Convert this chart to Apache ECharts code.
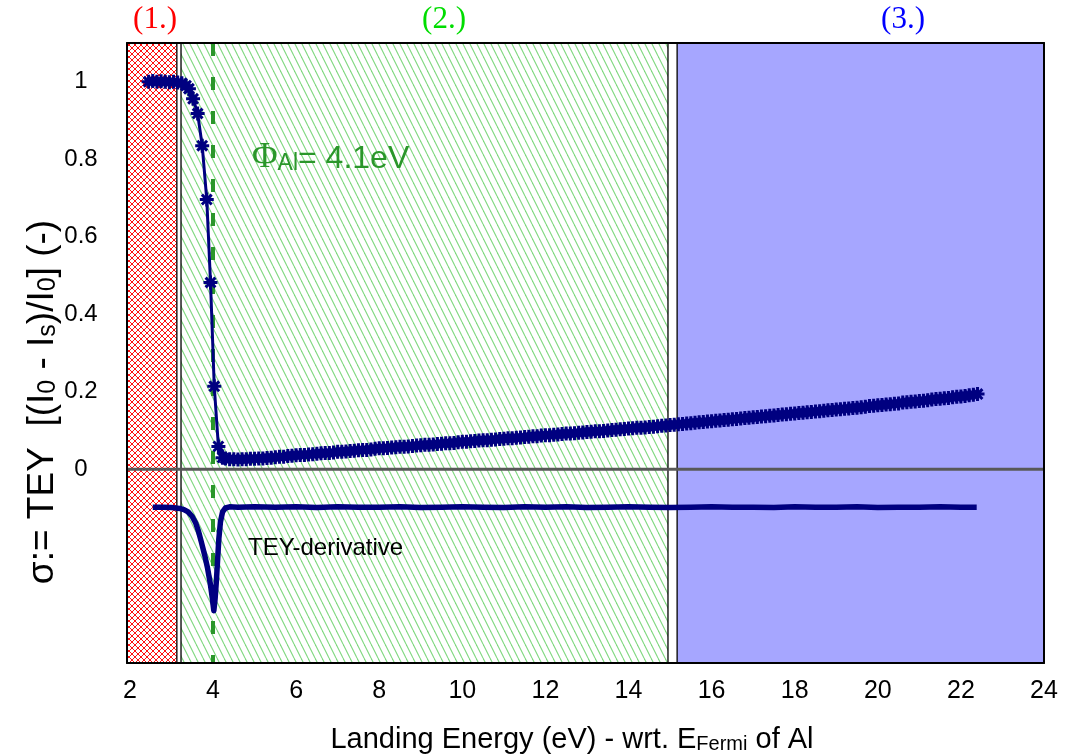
<!DOCTYPE html>
<html><head><meta charset="utf-8">
<script src="https://cdn.jsdelivr.net/npm/echarts@6/dist/echarts.min.js"></script>
<style>html,body{margin:0;padding:0;background:#fff}#c{width:1066px;height:756px}</style>
</head><body><div id="c"></div>
<script>
// ---------------- data ----------------
const teyX = [2.45,2.55,2.65,2.75,2.85,2.95,3.05,3.15,3.25,3.35,3.42,3.52,3.63,3.74,3.85,3.94,4.03,4.13,4.23,
  4.3,4.4,4.5,4.6,4.7,4.8,4.9,5.0,5.1,5.2,5.3,5.4,5.5,5.6,5.7,5.8,5.9,6.0,6.1,6.2,6.3,6.4,6.5,6.6,6.7,6.8,6.9,
  7.0,7.1,7.2,7.3,7.4,7.5,7.6,7.7,7.8,7.9,8.0,8.1,8.2,8.3,8.4,8.5,8.6,8.7,8.8,8.9,
  9.0,9.1,9.2,9.3,9.4,9.5,9.6,9.7,9.8,9.9,10.0,10.1,10.2,10.3,10.4,10.5,10.6,10.7,10.8,10.9,
  11.0,11.1,11.2,11.3,11.4,11.5,11.6,11.7,11.8,11.9,12.0,12.1,12.2,12.3,12.4,12.5,12.6,12.7,12.8,12.9,
  13.0,13.1,13.2,13.3,13.4,13.5,13.6,13.7,13.8,13.9,14.0,14.1,14.2,14.3,14.4,14.5,14.6,14.7,14.8,14.9,
  15.0,15.1,15.2,15.3,15.4,15.5,15.6,15.7,15.8,15.9,16.0,16.1,16.2,16.3,16.4,16.5,16.6,16.7,16.8,16.9,
  17.0,17.1,17.2,17.3,17.4,17.5,17.6,17.7,17.8,17.9,18.0,18.1,18.2,18.3,18.4,18.5,18.6,18.7,18.8,18.9,
  19.0,19.1,19.2,19.3,19.4,19.5,19.6,19.7,19.8,19.9,20.0,20.1,20.2,20.3,20.4,20.5,20.6,20.7,20.8,20.9,
  21.0,21.1,21.2,21.3,21.4,21.5,21.6,21.7,21.8,21.9,22.0,22.1,22.2,22.3,22.4];
const teyY = [1.0,1.002,1.0,1.001,1.0,0.999,1.0,0.998,0.996,0.99,0.982,0.956,0.918,0.835,0.696,0.482,0.214,0.059,0.030,
  0.028,0.026,0.026,0.025,0.026,0.026,0.027,0.027,0.028,0.028,0.029,0.030,0.031,0.032,0.032,0.034,0.035,0.036,0.037,0.037,0.038,0.039,0.040,0.041,0.042,0.042,0.043,
  0.045,0.045,0.046,0.047,0.048,0.049,0.050,0.050,0.051,0.053,0.054,0.054,0.055,0.056,0.057,0.058,0.058,0.059,0.060,0.061,
  0.062,0.063,0.063,0.064,0.065,0.066,0.067,0.067,0.068,0.070,0.071,0.071,0.072,0.073,0.074,0.075,0.075,0.076,0.077,0.078,
  0.079,0.080,0.080,0.081,0.082,0.083,0.084,0.085,0.085,0.087,0.088,0.088,0.089,0.090,0.091,0.092,0.092,0.093,0.094,0.095,
  0.096,0.097,0.098,0.098,0.099,0.100,0.101,0.102,0.103,0.104,0.105,0.106,0.107,0.107,0.108,0.109,0.110,0.111,0.112,0.113,
  0.114,0.115,0.116,0.117,0.118,0.119,0.120,0.121,0.122,0.123,0.124,0.125,0.126,0.127,0.128,0.129,0.130,0.131,0.132,0.133,
  0.134,0.135,0.136,0.137,0.138,0.139,0.140,0.141,0.142,0.143,0.144,0.145,0.146,0.147,0.148,0.149,0.150,0.151,0.152,0.153,
  0.154,0.155,0.156,0.157,0.158,0.159,0.160,0.161,0.163,0.164,0.165,0.166,0.167,0.168,0.169,0.170,0.172,0.173,0.174,0.175,
  0.176,0.177,0.178,0.180,0.181,0.182,0.183,0.184,0.186,0.187,0.188,0.189,0.191,0.192,0.194];
const derivX = [2.55,2.8,3.0,3.2,3.3,3.4,3.5,3.58,3.65,3.72,3.8,3.87,3.93,3.98,4.02,4.05,4.08,4.11,4.14,4.18,
  4.23,4.3,4.4,4.6,5.0,5.5,6.0,6.5,7.0,7.5,8.0,8.5,9.0,9.5,10.0,10.5,11.0,11.5,12.0,12.5,
  13.0,13.5,14.0,14.5,15.0,15.5,16.0,16.5,17.0,17.5,18.0,18.5,19.0,19.5,20.0,20.5,21.0,21.5,22.0,22.38];
const derivY = [-0.098,-0.098,-0.099,-0.101,-0.104,-0.110,-0.122,-0.138,-0.160,-0.188,-0.222,-0.256,-0.292,-0.330,-0.365,-0.335,-0.290,-0.235,-0.180,-0.135,
  -0.110,-0.100,-0.097,-0.098,-0.097,-0.098,-0.097,-0.099,-0.097,-0.098,-0.098,-0.097,-0.099,-0.098,-0.097,-0.098,-0.099,-0.097,-0.098,-0.097,
  -0.099,-0.098,-0.097,-0.098,-0.099,-0.098,-0.097,-0.098,-0.098,-0.099,-0.097,-0.098,-0.098,-0.097,-0.099,-0.098,-0.098,-0.097,-0.098,-0.098];
const regionStart = [1.93, 3.23, 15.17];
const regionEnd = [3.13, 14.95, 24];
const regionLabels = ['(1.)', '(2.)', '(3.)'];
const phiX = 4.0;
const xLabelValues = [2, 4, 6, 8, 10, 12, 14, 16, 18, 20, 22, 24];
const yLabelValues = [0, 0.2, 0.4, 0.6, 0.8, 1];
const X_MIN = 1.93, X_MAX = 24, Y_MIN = -0.5, Y_MAX = 1.1;

// ---------------- fill patterns ----------------
function greenHatch() {
  const w = 7, h = 14, c = document.createElement('canvas');
  c.width = w; c.height = h;
  const g = c.getContext('2d');
  g.fillStyle = '#fff'; g.fillRect(0, 0, w, h);
  g.strokeStyle = '#7fd87f'; g.lineWidth = 1.1;
  for (let k = -1; k <= 1; k++) { g.beginPath(); g.moveTo(k * w, 0); g.lineTo(k * w + w, h); g.stroke(); }
  return { image: c, repeat: 'repeat' };
}
function redCross() {
  const s = 6, c = document.createElement('canvas');
  c.width = s; c.height = s;
  const g = c.getContext('2d');
  g.fillStyle = '#fff'; g.fillRect(0, 0, s, s);
  g.fillStyle = '#ff1010';
  for (let i = 0; i < s; i++) { g.fillRect(i, i, 1, 1); g.fillRect(s - 1 - i, i, 1, 1); }
  return { image: c, repeat: 'repeat' };
}
const regionFills = [redCross(), greenHatch(), '#a6a6ff'];

const star = 'path://M0,5L10,5M5,0L5,10M1.5,1.5L8.5,8.5M8.5,1.5L1.5,8.5';
const navy = '#000080';
const green = '#2a962a';

const chart = echarts.init(document.getElementById('c'), null, { renderer: 'canvas' });
const axisFrame = { lineStyle: { color: '#000', width: 2 } };
chart.setOption({
  animation: false,
  backgroundColor: '#fff',
  grid: { left: 127, right: 22, top: 43, bottom: 93 },
  xAxis: [
    { type: 'value', min: X_MIN, max: X_MAX, z: 10,
      axisLine: { show: true, onZero: false, ...axisFrame }, axisTick: { show: false }, splitLine: { show: false },
      axisLabel: { customValues: xLabelValues, fontSize: 25, color: '#000', fontFamily: 'Liberation Sans', margin: 16 } },
    { type: 'value', position: 'top', min: X_MIN, max: X_MAX, z: 10,
      axisLine: { show: true, onZero: false, ...axisFrame }, axisTick: { show: false }, splitLine: { show: false }, axisLabel: { show: false } }
  ],
  yAxis: [
    { type: 'value', min: Y_MIN, max: Y_MAX, z: 10,
      axisLine: { show: true, onZero: false, ...axisFrame }, axisTick: { show: false }, splitLine: { show: false },
      axisLabel: { customValues: yLabelValues, fontSize: 24, color: '#000', fontFamily: 'Liberation Sans', align: 'center', margin: 46,
        formatter: v => String(Math.round(v * 10) / 10) } },
    { type: 'value', position: 'right', min: Y_MIN, max: Y_MAX, z: 10,
      axisLine: { show: true, onZero: false, ...axisFrame }, axisTick: { show: false }, splitLine: { show: false }, axisLabel: { show: false } }
  ],
  series: [
    { type: 'custom', z: 1, silent: true, clip: true,
      data: regionStart.map((s, i) => [s, regionEnd[i], i]),
      renderItem: (params, api) => {
        const i = api.value(2);
        const p1 = api.coord([api.value(0), Y_MAX]);
        const p2 = api.coord([api.value(1), Y_MIN]);
        return { type: 'rect', shape: { x: p1[0], y: p1[1], width: p2[0] - p1[0], height: p2[1] - p1[1] },
          style: { fill: regionFills[i], stroke: '#000', lineWidth: 1.3 } };
      } },
    { type: 'line', z: 3, silent: true, symbol: 'none', data: [[X_MIN, 0], [X_MAX, 0]],
      lineStyle: { color: '#585858', width: 3 } },
    { type: 'line', z: 3, silent: true, symbol: 'none', data: [[phiX, Y_MAX], [phiX, Y_MIN]],
      lineStyle: { color: green, width: 4, type: [13, 21] } },
    { type: 'line', z: 5, name: 'TEY-derivative', symbol: 'none', data: derivX.map((x, i) => [x, derivY[i]]),
      lineStyle: { color: navy, width: 5.5, join: 'round' } },
    { type: 'line', z: 6, name: 'TEY', symbol: star, symbolSize: 14, data: teyX.map((x, i) => [x, teyY[i]]),
      lineStyle: { color: navy, width: 3 },
      itemStyle: { color: navy, borderColor: navy, borderWidth: 3 } }
  ],
  graphic: [
    { type: 'text', x: 155, y: 20, z: 20, style: { text: regionLabels[0], fill: '#ff0000', font: '31px "Liberation Serif"', align: 'center', verticalAlign: 'middle' } },
    { type: 'text', x: 444, y: 20, z: 20, style: { text: regionLabels[1], fill: '#00dd00', font: '31px "Liberation Serif"', align: 'center', verticalAlign: 'middle' } },
    { type: 'text', x: 903, y: 20, z: 20, style: { text: regionLabels[2], fill: '#0000ff', font: '31px "Liberation Serif"', align: 'center', verticalAlign: 'middle' } },
    { type: 'text', x: 252, y: 156, z: 20, style: {
        text: '{p|Φ}{s|Al}{n|= 4.1eV}', align: 'left', verticalAlign: 'middle',
        rich: {
          p: { fontSize: 35, fontFamily: 'Liberation Serif', fill: green, lineHeight: 38, verticalAlign: 'bottom' },
          s: { fontSize: 23, fontFamily: 'Liberation Sans', fill: green, lineHeight: 17, verticalAlign: 'bottom' },
          n: { fontSize: 32, fontFamily: 'Liberation Sans', fill: green, lineHeight: 38, verticalAlign: 'bottom' }
        } } },
    { type: 'text', x: 248, y: 548, z: 20, style: { text: 'TEY-derivative', fill: '#000', font: '24px "Liberation Sans"', align: 'left', verticalAlign: 'middle' } },
    { type: 'text', x: 572, y: 737, z: 20, style: {
        text: '{n|Landing Energy (eV) - wrt. E}{s|Fermi}{n| of Al}', align: 'center', verticalAlign: 'middle',
        rich: {
          n: { fontSize: 29, fontFamily: 'Liberation Sans', fill: '#000', lineHeight: 34, verticalAlign: 'bottom' },
          s: { fontSize: 20, fontFamily: 'Liberation Sans', fill: '#000', lineHeight: 14, verticalAlign: 'bottom' }
        } } },
    { type: 'text', x: 40, y: 402, rotation: Math.PI / 2, z: 20, style: {
        text: '{n|σ:= TEY  [(I}{s|0}{n| - I}{s|s}{n|)/I}{s|0}{n|] (-)}', align: 'center', verticalAlign: 'middle',
        rich: {
          n: { fontSize: 37, fontFamily: 'Liberation Sans', fill: '#000', lineHeight: 42, verticalAlign: 'bottom' },
          s: { fontSize: 25, fontFamily: 'Liberation Sans', fill: '#000', lineHeight: 18, verticalAlign: 'bottom' }
        } } }
  ]
});
</script></body></html>
